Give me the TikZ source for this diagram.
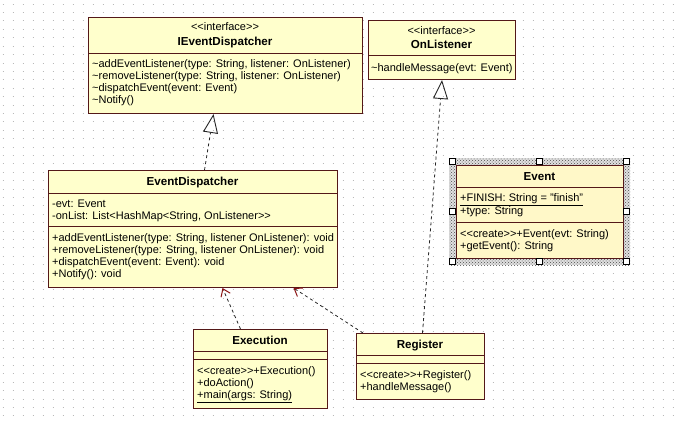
\documentclass[tikz,border=0pt]{standalone}
\usepackage{fontspec}
\setmainfont{Liberation Sans}
\usetikzlibrary{arrows.meta,patterns}
\definecolor{umlfill}{RGB}{255,255,204}
\definecolor{umlsel}{RGB}{255,248,200}
\definecolor{umlline}{RGB}{84,24,24}
\definecolor{umldep}{RGB}{140,20,20}
\definecolor{umlgrid}{RGB}{185,185,185}

\begin{document}
\begin{tikzpicture}[x=1pt,y=-1pt,font=\fontsize{11}{12}\selectfont,
    cls/.style={draw=umlline,fill=umlfill,line width=1pt,anchor=north west,inner sep=0pt},
    sep/.style={draw=umlline,line width=1pt},
    stereo/.style={inner sep=0pt,text height=7.9pt,text depth=0pt},
    hdr/.style={inner sep=0pt,text height=8.4pt,text depth=0pt,font=\fontsize{11.6}{12}\selectfont\bfseries},
    txt/.style={anchor=north west,align=left,inner sep=0pt,execute at begin node=\strut},
    real/.style={draw=black!85,line width=0.8pt,dash pattern=on 3pt off 3pt,-{Triangle[open,length=19pt,width=15pt,line width=0.9pt]}},
    dep/.style={draw=black!85,line width=0.8pt,dash pattern=on 3pt off 3pt,-{Straight Barb[length=7pt,width=10pt,line width=1pt,color=umldep]}},
    handle/.style={draw=black,fill=white,line width=0.8pt,minimum size=6pt,inner sep=0pt},
    gridrow/.style={draw=umlgrid,line width=1pt,dash pattern=on 1pt off 9pt}]
  \fill[white] (0,0) rectangle (676,420);
  \useasboundingbox (0,0) rectangle (676,420);
  \foreach \gy in {0,...,49}
    \draw[gridrow] (2.5,{4.2+8.4*\gy}) -- (676,{4.2+8.4*\gy});

  \node[cls,minimum width=274pt,minimum height=96pt] (ied) at (88,17) {};
  \node[stereo] (ied-st) at (225,27) {<{}<interface>{}>};
  \node[hdr] (ied-nm) at (225,41) {IEventDispatcher};
  \draw[sep] ([yshift=-36pt]ied.north west) -- ([yshift=-36pt]ied.north east);
  \node[txt] (ied-op) at (92,59.5) {\textasciitilde addEventListener(type: String, listener: OnListener)\\
    \textasciitilde removeListener(type: String, listener: OnListener)\\
    \textasciitilde dispatchEvent(event: Event)\\
    \textasciitilde Notify()};

  \node[cls,minimum width=147pt,minimum height=59pt] (ol) at (368,20) {};
  \node[stereo] (ol-st) at (441.5,31) {<{}<interface>{}>};
  \node[hdr] (ol-nm) at (441.5,44) {OnListener};
  \draw[sep] ([yshift=-35pt]ol.north west) -- ([yshift=-35pt]ol.north east);
  \node[txt] (ol-op) at (371,62.5) {\textasciitilde handleMessage(evt: Event)};

  \node[cls,minimum width=289pt,minimum height=117pt] (ed) at (48,170) {};
  \node[hdr] (ed-nm) at (192.5,181) {EventDispatcher};
  \draw[sep] ([yshift=-23pt]ed.north west) -- ([yshift=-23pt]ed.north east);
  \node[txt] (ed-at) at (52,199.5) {-evt: Event\\
    -onList: List<HashMap<String, OnListener>{}>};
  \draw[sep] ([yshift=-56pt]ed.north west) -- ([yshift=-56pt]ed.north east);
  \node[txt] (ed-op) at (52,233.5) {+addEventListener(type: String, listener OnListener): void\\
    +removeListener(type: String, listener OnListener): void\\
    +dispatchEvent(event: Event): void\\
    +Notify(): void};

  \fill[black!12] (449,158) rectangle (630,265);
  \fill[pattern=crosshatch dots,pattern color=black!70] (449,158) rectangle (630,265);
  \node[cls,fill=umlsel,minimum width=167pt,minimum height=93pt] (ev) at (456,165) {};
  \node[hdr] (ev-nm) at (539.5,176) {Event};
  \draw[sep] ([yshift=-22pt]ev.north west) -- ([yshift=-22pt]ev.north east);
  \node[txt] (ev-at) at (460,193.5) {\underline{+FINISH: String = "finish"}\\
    +type: String};
  \draw[sep] ([yshift=-57pt]ev.north west) -- ([yshift=-57pt]ev.north east);
  \node[txt] (ev-op) at (460,229.5) {<{}<create>{}>+Event(evt: String)\\
    +getEvent(): String};
  \node[minimum width=174pt,minimum height=100pt,inner sep=0pt] (evsel) at (539.5,211.5) {};
  \foreach \a/\n in {north west/nw,north/n,north east/ne,west/w,east/e,south west/sw,south/s,south east/se}
    \node[handle] (evsel-\n) at (evsel.\a) {};

  \node[cls,minimum width=134pt,minimum height=79pt] (exe) at (193,329) {};
  \node[hdr] (exe-nm) at (260,340) {Execution};
  \draw[sep] ([yshift=-22pt]exe.north west) -- ([yshift=-22pt]exe.north east);
  \draw[sep] ([yshift=-30pt]exe.north west) -- ([yshift=-30pt]exe.north east);
  \node[txt] (exe-op) at (197,366.5) {<{}<create>{}>+Execution()\\
    +doAction()\\
    \underline{+main(args: String)}};

  \node[cls,minimum width=128pt,minimum height=66pt] (reg) at (356,333) {};
  \node[hdr] (reg-nm) at (420,344) {Register};
  \draw[sep] ([yshift=-22pt]reg.north west) -- ([yshift=-22pt]reg.north east);
  \draw[sep] ([yshift=-30pt]reg.north west) -- ([yshift=-30pt]reg.north east);
  \node[txt] (reg-op) at (360,370.5) {<{}<create>{}>+Register()\\
    +handleMessage()};

  \draw[real] ([xshift=11.5pt]ed.north) -- ([xshift=-12pt]ied.south);
  \draw[real] ([xshift=2pt]reg.north) -- (ol.south);
  \draw[dep] ([xshift=-20pt]exe.north) -- ([xshift=29.5pt]ed.south);
  \draw[dep] ([xshift=7pt]reg.north west) -- ([xshift=100.5pt]ed.south);
\end{tikzpicture}
\end{document}
